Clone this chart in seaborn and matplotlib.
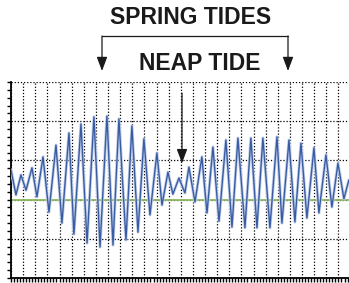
import numpy as np
import pandas as pd
import matplotlib.pyplot as plt
import seaborn as sns
from matplotlib.ticker import MultipleLocator

# --- Data: tide extremes (day, water level) ---
days = [0.00, 0.41, 0.82, 1.24, 1.73, 2.14, 2.64, 3.13, 3.71, 4.20,
        4.78, 5.19, 5.77, 6.27, 6.84, 7.34, 7.91, 8.41, 8.90, 9.48,
        9.97, 10.47, 10.96, 11.46, 12.03, 12.45, 12.94, 13.35, 13.85, 14.34,
        14.67, 15.17, 15.74, 16.16, 16.65, 17.15, 17.72, 18.22, 18.71, 19.29,
        19.78, 20.28, 20.77, 21.35, 21.93, 22.34, 22.92, 23.41, 23.91, 24.40,
        24.98, 25.39, 25.97, 26.46, 26.96, 27.45, 27.86]
level = [2.76, 2.12, 2.63, 2.24, 2.81, 2.07, 3.09, 1.68, 3.39, 1.40,
         3.70, 1.12, 3.93, 0.89, 4.11, 0.79, 4.13, 0.84, 4.06, 0.97,
         3.88, 1.17, 3.55, 1.61, 3.19, 1.86, 2.70, 2.14, 2.55, 2.17,
         2.83, 1.94, 3.09, 1.66, 3.34, 1.45, 3.52, 1.30, 3.57, 1.28,
         3.57, 1.28, 3.57, 1.28, 3.60, 1.40, 3.52, 1.43, 3.44, 1.53,
         3.32, 1.66, 3.14, 1.81, 2.93, 2.02, 2.50]

mean_level = 2.0
spring_days = [7.5, 22.8]
neap_day = 14.1

df = pd.DataFrame({'day': days, 'level': level})

sns.set_style('white')
plt.rcParams['font.family'] = ['Liberation Sans', 'DejaVu Sans']

W, H = 349, 283
fig = plt.figure(figsize=(W / 100, H / 100), dpi=100)
ax = fig.add_axes([11 / W, 5 / H, (W - 11) / W, 196 / H])

ax.axhline(mean_level, color='#8db860', lw=1.3, zorder=2)
# light halo under the trace, as in the original
sns.lineplot(data=df, x='day', y='level', color='#c3d0ea', lw=2.2, ax=ax, zorder=3)
sns.lineplot(data=df, x='day', y='level', color='#3a5ca3', lw=1.0, ax=ax, zorder=4)

ax.set_xlim(0, 27.87)
ax.set_ylim(0, 5)
ax.xaxis.set_major_locator(MultipleLocator(1))
ax.xaxis.set_minor_locator(MultipleLocator(0.25))
ax.yaxis.set_major_locator(MultipleLocator(1))
ax.yaxis.set_minor_locator(MultipleLocator(0.2))
ax.grid(True, which='major', color='black', lw=0.9, linestyle=(0, (1, 1.5)))
ax.set_xticklabels([])
ax.set_yticklabels([])
ax.tick_params(which='both', direction='out', length=3, width=1, color='black',
               bottom=True, left=True)
ax.set_xlabel('')
ax.set_ylabel('')
for s in ['top', 'right']:
    ax.spines[s].set_visible(False)
for s in ['left', 'bottom']:
    ax.spines[s].set_color('black')
    ax.spines[s].set_linewidth(1.3)

# --- Annotations ---
fig.text(191 / W, 1 - 17 / H, 'SPRING TIDES', ha='center', va='center',
         fontsize=16.5, fontweight='bold', color='#1a1a1a')
fig.text(200 / W, 1 - 63 / H, 'NEAP TIDE', ha='center', va='center',
         fontsize=16.5, fontweight='bold', color='#1a1a1a')

x0, x1 = 102, 288
ybar = H - 36
fig.add_artist(plt.Line2D([x0 / W, x1 / W], [ybar / H, ybar / H], color='#1a1a1a', lw=0.9))
for xa in (x0, x1):
    ax.annotate('', xy=(xa, H - 71), xytext=(xa, ybar), xycoords='figure pixels',
                textcoords='figure pixels',
                arrowprops=dict(arrowstyle='-|>,head_length=0.85,head_width=0.32',
                                color='#1a1a1a', lw=0.9, mutation_scale=10,
                                shrinkA=0, shrinkB=0))

ax.annotate('', xy=(neap_day, 2.93), xytext=(neap_day, 4.72),
            arrowprops=dict(arrowstyle='-|>,head_length=0.85,head_width=0.32',
                            color='#1a1a1a', lw=0.9, mutation_scale=10,
                            shrinkA=0, shrinkB=0), zorder=5)

fig.savefig('out.png', dpi=100)
